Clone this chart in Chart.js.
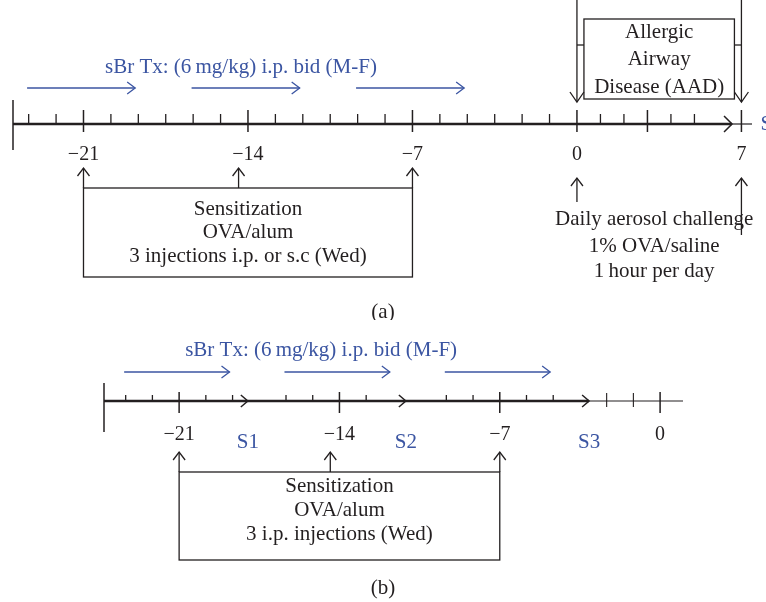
<!DOCTYPE html>
<html>
<head>
    <title>Sensitization and challenge protocol</title>
    <script src="https://cdn.jsdelivr.net/npm/chart.js"></script>
    <style>
        body { margin: 0; background: #fff; }
        .panel { position: relative; width: 766px; }
    </style>
</head>
<body>
    <div class="panel" style="height: 320px;"><canvas id="protocolA"></canvas></div>
    <div class="panel" style="height: 282px;"><canvas id="protocolB"></canvas></div>
    <script>
        // Days are counted from the first aerosol challenge (day 0)
        const weekDaysA = [-21, -14, -7, 0, 7];
        const weekDaysB = [-21, -14, -7, 0];
        const extraMajorDaysA = [3];
        const injectionDays = [-21, -14.4, -7];
        const treatmentStart = [-23.4, -16.4, -9.4];
        const treatmentEnd = [-18.8, -11.8, -4.8];
        const challengeDays = [0, 7];
        const axisArrowDayA = 6.6;
        const sampleNames = ['S1', 'S2', 'S3'];
        const sampleDays = [-18.0, -11.1, -3.1];

        const treatmentLabel = 'sBr Tx: (6\u2009mg/kg) i.p. bid (M-F)';
        const sensitizationA = ['Sensitization', 'OVA/alum', '3 injections i.p. or s.c (Wed)'];
        const sensitizationB = ['Sensitization', 'OVA/alum', '3 i.p. injections (Wed)'];
        const aadLines = ['Allergic', 'Airway', 'Disease (AAD)'];
        const challengeLines = ['Daily aerosol challenge', '1% OVA/saline', '1\u2009hour per day'];
        const endLabelA = 'S4';

        const ink = '#231f20';
        const blue = '#3b55a2';
        const serif = '"Liberation Serif", "DejaVu Serif", serif';
        const font = '21px ' + serif;

        Chart.defaults.font.family = serif;
        Chart.defaults.font.size = 20;
        Chart.defaults.color = ink;

        // six marks per sensitization week, daily marks during the challenge week
        function dayTicks(min, challengeEnd, skip, keep) {
            const out = [];
            const step = 7 / 6;
            for (let k = -30; k <= 18; k++) {
                const d = Math.round((-21 + k * step) * 1e6) / 1e6;
                if (d >= min) out.push(d);
            }
            for (let d = 1; d <= challengeEnd; d++) out.push(d);
            return out.filter(d => keep.includes(d) || !skip.some(s => Math.abs(s - d) < 0.6));
        }

        function dayLabel(v, labelled) {
            if (!labelled.includes(v)) return '';
            return v < 0 ? '\u2212' + Math.abs(v) : String(v);
        }

        function seg(ctx, x1, y1, x2, y2) {
            ctx.beginPath();
            ctx.moveTo(x1, y1);
            ctx.lineTo(x2, y2);
            ctx.stroke();
        }

        function arrow(ctx, x1, y1, x2, y2, len, half) {
            seg(ctx, x1, y1, x2, y2);
            const a = Math.atan2(y2 - y1, x2 - x1);
            const ux = Math.cos(a), uy = Math.sin(a);
            ctx.beginPath();
            ctx.moveTo(x2 - ux * len - uy * half, y2 - uy * len + ux * half);
            ctx.lineTo(x2, y2);
            ctx.lineTo(x2 - ux * len + uy * half, y2 - uy * len - ux * half);
            ctx.stroke();
        }

        function chevron(ctx, x, y, w, h) {
            ctx.beginPath();
            ctx.moveTo(x - w, y - h);
            ctx.lineTo(x, y);
            ctx.lineTo(x - w, y + h);
            ctx.stroke();
        }

        function textLines(ctx, lines, x, ys) {
            lines.forEach((t, i) => ctx.fillText(t, x, ys[i]));
        }

        // shared parts of both timelines; L holds offsets (px) from the axis line
        function drawTimeline(chart, L) {
            const { ctx, chartArea: area } = chart;
            const x = chart.scales.x;
            const px = d => x.getPixelForValue(d);
            const y0 = area.bottom;

            ctx.font = font;
            ctx.textAlign = 'center';
            ctx.textBaseline = 'middle';

            // treatment arrows and label
            ctx.strokeStyle = blue;
            ctx.lineWidth = 1.3;
            treatmentStart.forEach((s, i) => arrow(ctx, px(s), y0 + L.treat, px(treatmentEnd[i]), y0 + L.treat, 8, 6));
            ctx.fillStyle = blue;
            ctx.fillText(treatmentLabel, px(L.labelDay), y0 + L.treatText);

            // axis line: thick up to the arrow mark, thin after it
            ctx.strokeStyle = ink;
            ctx.lineWidth = 2.3;
            seg(ctx, area.left, y0, px(L.arrowEnd), y0);
            ctx.lineWidth = 1.2;
            seg(ctx, px(L.arrowEnd), y0, area.right, y0);
            ctx.lineWidth = 1.5;
            seg(ctx, area.left, y0 - L.leftUp, area.left, y0 + L.leftDown);
            L.chevrons.forEach(d => chevron(ctx, px(d), y0, L.chevW, L.chevH));

            x.ticks.forEach(t => {
                const d = t.value;
                const p = px(d);
                if (L.majors.includes(d)) {
                    ctx.lineWidth = 1.5;
                    seg(ctx, p, y0 - L.majorUp, p, y0 + L.majorDown);
                } else if (d > L.arrowEnd) {
                    ctx.lineWidth = 1.1;
                    seg(ctx, p, y0 - L.thinUp, p, y0 + L.thinDown);
                } else {
                    ctx.lineWidth = 1.3;
                    seg(ctx, p, y0 - L.minorUp, p, y0);
                }
            });

            // sensitization injections and box
            const bl = px(injectionDays[0]);
            const br = px(injectionDays[injectionDays.length - 1]);
            ctx.lineWidth = 1.3;
            injectionDays.forEach(d => arrow(ctx, px(d), y0 + L.boxTop, px(d), y0 + L.injTip, 8, 6));
            ctx.strokeRect(bl, y0 + L.boxTop, br - bl, L.boxBottom - L.boxTop);
            ctx.fillStyle = ink;
            textLines(ctx, L.boxText, (bl + br) / 2, L.boxLines.map(v => y0 + v));

            ctx.fillText(L.caption, chart.width / 2, y0 + L.captionY);
            return { px, y0 };
        }

        const layoutA = {
            labelDay: -14.3, treat: -36, treatText: -57,
            arrowEnd: axisArrowDayA, chevrons: [axisArrowDayA], chevW: 8, chevH: 8,
            leftUp: 24, leftDown: 26, majorUp: 14, majorDown: 8, minorUp: 10, thinUp: 14, thinDown: 8,
            majors: weekDaysA.concat(extraMajorDaysA),
            injTip: 44, boxTop: 64, boxBottom: 153, boxLines: [85, 108, 132], boxText: sensitizationA,
            caption: '(a)', captionY: 188
        };

        const layoutB = {
            labelDay: -14.8, treat: -29, treatText: -51,
            arrowEnd: sampleDays[sampleDays.length - 1], chevrons: sampleDays, chevW: 7, chevH: 6,
            leftUp: 18, leftDown: 31, majorUp: 9, majorDown: 12, minorUp: 6, thinUp: 8, thinDown: 6,
            majors: weekDaysB,
            injTip: 51, boxTop: 71, boxBottom: 159, boxLines: [85, 109, 133], boxText: sensitizationB,
            caption: '(b)', captionY: 187
        };

        const drawA = {
            id: 'drawA',
            afterDraw(chart) {
                const ctx = chart.ctx;
                ctx.save();
                const { px, y0 } = drawTimeline(chart, layoutA);
                const c0 = px(challengeDays[0]), c1 = px(challengeDays[1]);
                const mid = (c0 + c1) / 2;

                // allergic airway disease window
                ctx.strokeStyle = ink;
                ctx.fillStyle = ink;
                ctx.lineWidth = 1.3;
                arrow(ctx, c0, y0 - 124, c0, y0 - 22, 10, 7);
                arrow(ctx, c1, y0 - 124, c1, y0 - 22, 10, 7);
                ctx.strokeRect(c0 + 7, y0 - 105, c1 - c0 - 14, 80);
                seg(ctx, c0, y0 - 79, c0 + 7, y0 - 79);
                seg(ctx, c1 - 7, y0 - 79, c1, y0 - 79);
                textLines(ctx, aadLines, mid, [y0 - 92, y0 - 65, y0 - 37]);

                // aerosol challenge
                arrow(ctx, c0, y0 + 78, c0, y0 + 54, 8, 6);
                textLines(ctx, challengeLines, mid - 5, [y0 + 95, y0 + 122, y0 + 147]);
                arrow(ctx, c1, y0 + 111, c1, y0 + 54, 8, 6);

                ctx.fillStyle = blue;
                ctx.textAlign = 'left';
                ctx.fillText(endLabelA, c1 + 19, y0);
                ctx.restore();
            }
        };

        const drawB = {
            id: 'drawB',
            afterDraw(chart) {
                const ctx = chart.ctx;
                ctx.save();
                const { px, y0 } = drawTimeline(chart, layoutB);
                ctx.fillStyle = blue;
                sampleNames.forEach((s, i) => ctx.fillText(s, px(sampleDays[i]), y0 + 41));
                ctx.restore();
            }
        };

        function makeTimeline(id, cfg) {
            return new Chart(document.getElementById(id), {
                type: 'scatter',
                data: { datasets: [] },
                options: {
                    responsive: true,
                    maintainAspectRatio: false,
                    animation: false,
                    events: [],
                    layout: { padding: cfg.padding },
                    plugins: { legend: { display: false }, tooltip: { enabled: false } },
                    scales: {
                        x: {
                            type: 'linear',
                            min: cfg.min,
                            max: cfg.max,
                            afterBuildTicks: scale => { scale.ticks = cfg.ticks.map(v => ({ value: v })); },
                            grid: { display: false, drawTicks: false },
                            border: { display: false },
                            ticks: {
                                autoSkip: false,
                                maxRotation: 0,
                                padding: cfg.labelPad,
                                color: ink,
                                font: { size: 20 },
                                callback: v => dayLabel(v, cfg.labelled)
                            }
                        },
                        y: { display: false, min: 0, max: 1 }
                    }
                },
                plugins: [cfg.draw]
            });
        }

        makeTimeline('protocolA', {
            min: -24, max: 7.45,
            ticks: dayTicks(-24, 7, [axisArrowDayA], weekDaysA),
            labelled: weekDaysA,
            labelPad: 19,
            padding: { left: 13, right: 14, top: 0, bottom: 134 },
            draw: drawA
        });

        makeTimeline('protocolB', {
            min: -24.28, max: 1.0,
            ticks: dayTicks(-24.28, 0, sampleDays, weekDaysB),
            labelled: weekDaysB,
            labelPad: 22,
            padding: { left: 104, right: 83, top: 0, bottom: 133 },
            draw: drawB
        });
    </script>
</body>
</html>
